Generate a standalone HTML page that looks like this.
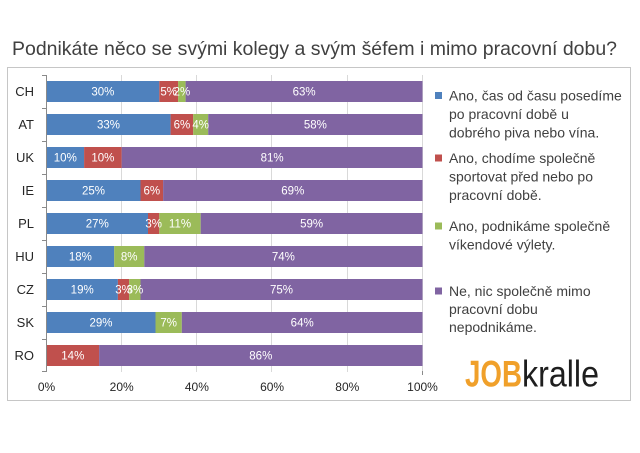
<!DOCTYPE html>
<html>
<head>
<meta charset="utf-8">
<style>
  html,body{margin:0;padding:0;background:#fff;}
  svg{display:block;}
  text{font-family:"Liberation Sans", "DejaVu Sans", sans-serif;}
</style>
</head>
<body>
<svg width="640" height="453" viewBox="0 0 640 453" xmlns="http://www.w3.org/2000/svg">
  <rect x="0" y="0" width="640" height="453" fill="#ffffff"/>
  <!-- Title -->
  <text x="12" y="55" font-size="19.5" fill="#404040" textLength="605" lengthAdjust="spacingAndGlyphs">Podnikáte něco se svými kolegy a svým šéfem i mimo pracovní dobu?</text>

  <!-- Chart border -->
  <rect x="7.5" y="67.5" width="623" height="333" fill="none" stroke="#c6c6c6" stroke-width="1"/>

  <!-- Gridlines -->
  <g stroke="#d9d9d9" stroke-width="1">
    <line x1="121.5" y1="75" x2="121.5" y2="372"/>
    <line x1="196.5" y1="75" x2="196.5" y2="372"/>
    <line x1="271.5" y1="75" x2="271.5" y2="372"/>
    <line x1="347.5" y1="75" x2="347.5" y2="372"/>
    <line x1="422.5" y1="75" x2="422.5" y2="372"/>
  </g>

  <!-- Bars: x0=46.5, 3.76px per % -->
  <g>
    <!-- CH y=81 -->
    <rect x="46.5" y="81" width="112.8" height="21" fill="#4f81bd"/>
    <rect x="159.3" y="81" width="18.8" height="21" fill="#c0504d"/>
    <rect x="178.1" y="81" width="7.5" height="21" fill="#9bbb59"/>
    <rect x="185.6" y="81" width="236.9" height="21" fill="#8064a2"/>
    <!-- AT y=114 -->
    <rect x="46.5" y="114" width="124.1" height="21" fill="#4f81bd"/>
    <rect x="170.6" y="114" width="22.6" height="21" fill="#c0504d"/>
    <rect x="193.2" y="114" width="15" height="21" fill="#9bbb59"/>
    <rect x="208.2" y="114" width="214.3" height="21" fill="#8064a2"/>
    <!-- UK y=147 -->
    <rect x="46.5" y="147" width="37.6" height="21" fill="#4f81bd"/>
    <rect x="84.1" y="147" width="37.6" height="21" fill="#c0504d"/>
    <rect x="121.7" y="147" width="300.8" height="21" fill="#8064a2"/>
    <!-- IE y=180 -->
    <rect x="46.5" y="180" width="94" height="21" fill="#4f81bd"/>
    <rect x="140.5" y="180" width="22.6" height="21" fill="#c0504d"/>
    <rect x="163.1" y="180" width="259.4" height="21" fill="#8064a2"/>
    <!-- PL y=213 -->
    <rect x="46.5" y="213" width="101.5" height="21" fill="#4f81bd"/>
    <rect x="148" y="213" width="11.3" height="21" fill="#c0504d"/>
    <rect x="159.3" y="213" width="41.4" height="21" fill="#9bbb59"/>
    <rect x="200.7" y="213" width="221.8" height="21" fill="#8064a2"/>
    <!-- HU y=246 -->
    <rect x="46.5" y="246" width="67.7" height="21" fill="#4f81bd"/>
    <rect x="114.2" y="246" width="30.1" height="21" fill="#9bbb59"/>
    <rect x="144.3" y="246" width="278.2" height="21" fill="#8064a2"/>
    <!-- CZ y=279 -->
    <rect x="46.5" y="279" width="71.4" height="21" fill="#4f81bd"/>
    <rect x="117.9" y="279" width="11.3" height="21" fill="#c0504d"/>
    <rect x="129.2" y="279" width="11.3" height="21" fill="#9bbb59"/>
    <rect x="140.5" y="279" width="282" height="21" fill="#8064a2"/>
    <!-- SK y=312 -->
    <rect x="46.5" y="312" width="109" height="21" fill="#4f81bd"/>
    <rect x="155.5" y="312" width="26.3" height="21" fill="#9bbb59"/>
    <rect x="181.8" y="312" width="240.7" height="21" fill="#8064a2"/>
    <!-- RO y=345 -->
    <rect x="46.5" y="345" width="52.6" height="21" fill="#c0504d"/>
    <rect x="99.1" y="345" width="323.4" height="21" fill="#8064a2"/>
  </g>

  <!-- Axis -->
  <g stroke="#8a8a8a" stroke-width="1">
    <line x1="46.5" y1="75" x2="46.5" y2="372"/>
    <line x1="42" y1="75.5" x2="46.5" y2="75.5"/>
    <line x1="42" y1="108.5" x2="46.5" y2="108.5"/>
    <line x1="42" y1="141.5" x2="46.5" y2="141.5"/>
    <line x1="42" y1="174.5" x2="46.5" y2="174.5"/>
    <line x1="42" y1="207.5" x2="46.5" y2="207.5"/>
    <line x1="42" y1="240.5" x2="46.5" y2="240.5"/>
    <line x1="42" y1="273.5" x2="46.5" y2="273.5"/>
    <line x1="42" y1="306.5" x2="46.5" y2="306.5"/>
    <line x1="42" y1="339.5" x2="46.5" y2="339.5"/>
    <line x1="42" y1="371.5" x2="46.5" y2="371.5"/>
    <line x1="422.5" y1="371" x2="422.5" y2="375"/>
  </g>

  <!-- Category labels -->
  <g font-size="13" fill="#262626" text-anchor="end">
    <text x="34" y="96">CH</text>
    <text x="34" y="129">AT</text>
    <text x="34" y="162">UK</text>
    <text x="34" y="195">IE</text>
    <text x="34" y="228">PL</text>
    <text x="34" y="261">HU</text>
    <text x="34" y="294">CZ</text>
    <text x="34" y="327">SK</text>
    <text x="34" y="360">RO</text>
  </g>

  <!-- Data labels -->
  <g font-size="11.5" fill="#ffffff" text-anchor="middle">
    <text x="102.9" y="95.5">30%</text>
    <text x="168.7" y="95.5">5%</text>
    <text x="181.9" y="95.5">2%</text>
    <text x="304.1" y="95.5">63%</text>

    <text x="108.5" y="128.5">33%</text>
    <text x="181.9" y="128.5">6%</text>
    <text x="200.7" y="128.5">4%</text>
    <text x="315.4" y="128.5">58%</text>

    <text x="65.3" y="161.5">10%</text>
    <text x="102.9" y="161.5">10%</text>
    <text x="272.1" y="161.5">81%</text>

    <text x="93.5" y="194.5">25%</text>
    <text x="151.8" y="194.5">6%</text>
    <text x="292.8" y="194.5">69%</text>

    <text x="97.3" y="227.5">27%</text>
    <text x="153.7" y="227.5">3%</text>
    <text x="180" y="227.5">11%</text>
    <text x="311.6" y="227.5">59%</text>

    <text x="80.4" y="260.5">18%</text>
    <text x="129.2" y="260.5">8%</text>
    <text x="283.4" y="260.5">74%</text>

    <text x="82.2" y="293.5">19%</text>
    <text x="123.6" y="293.5">3%</text>
    <text x="134.9" y="293.5">3%</text>
    <text x="281.5" y="293.5">75%</text>

    <text x="101" y="326.5">29%</text>
    <text x="168.7" y="326.5">7%</text>
    <text x="302.2" y="326.5">64%</text>

    <text x="72.8" y="359.5">14%</text>
    <text x="260.8" y="359.5">86%</text>
  </g>

  <!-- X tick labels -->
  <g font-size="12" fill="#262626" text-anchor="middle">
    <text x="46.5" y="391">0%</text>
    <text x="121.7" y="391">20%</text>
    <text x="196.9" y="391">40%</text>
    <text x="272.1" y="391">60%</text>
    <text x="347.3" y="391">80%</text>
    <text x="422.5" y="391">100%</text>
  </g>

  <!-- Legend -->
  <rect x="435" y="92" width="7" height="7" fill="#4f81bd"/>
  <rect x="435" y="154.5" width="7" height="7" fill="#c0504d"/>
  <rect x="435" y="222.5" width="7" height="7" fill="#9bbb59"/>
  <rect x="435" y="287.5" width="7" height="7" fill="#8064a2"/>
  <g font-size="14" fill="#404040">
    <text x="449" y="100.5">Ano, čas od času posedíme</text>
    <text x="449" y="119">po pracovní době u</text>
    <text x="449" y="137.5">dobrého piva nebo vína.</text>

    <text x="449" y="163">Ano, chodíme společně</text>
    <text x="449" y="181.5">sportovat před nebo po</text>
    <text x="449" y="200">pracovní době.</text>

    <text x="449" y="231">Ano, podnikáme společně</text>
    <text x="449" y="249.5">víkendové výlety.</text>

    <text x="449" y="296">Ne, nic společně mimo</text>
    <text x="449" y="314">pracovní dobu</text>
    <text x="449" y="332">nepodnikáme.</text>
  </g>

  <!-- Logo -->
  <text x="465" y="386.5" font-size="37" font-weight="bold" fill="#f0a02a" textLength="57" lengthAdjust="spacingAndGlyphs">JOB</text>
  <text x="522" y="386.5" font-size="37" fill="#1e1e1e" textLength="77" lengthAdjust="spacingAndGlyphs">kralle</text>
</svg>
</body>
</html>
